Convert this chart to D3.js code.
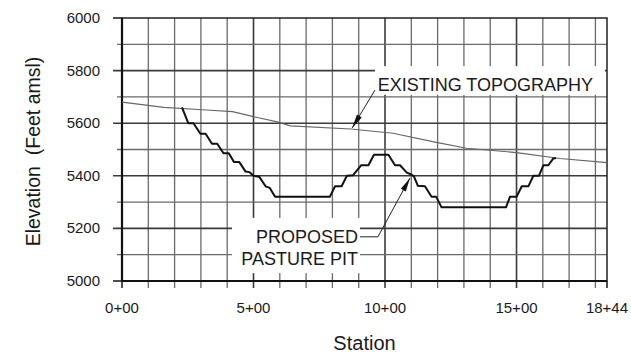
<!DOCTYPE html>
<html>
<head>
<meta charset="utf-8">
<script src="https://cdn.jsdelivr.net/npm/d3@7"></script>
<style>
  body { margin: 0; background: #fff; }
  text { font-family: "Liberation Sans", Arial, sans-serif; fill: #1a1a1a; }
</style>
</head>
<body>
<svg id="chart" width="631" height="358"></svg>
<script>
var width = 631;
var height = 358;
var margin = { top: 18, right: 24, bottom: 77, left: 122 };

// existing ground profile (station ft, elevation ft amsl)
var existStation = [0, 160, 320, 420, 500, 590, 640, 870, 1030, 1200, 1310, 1500, 1665, 1844];
var existElev = [5680, 5660, 5650, 5644, 5625, 5605, 5590, 5578, 5562, 5526, 5505, 5488, 5466, 5450];

// proposed pit benches
var pitStation = [228, 252, 272, 298, 318, 342, 362, 386, 406, 426, 446, 470, 484, 500, 522, 546, 562, 582,
  790, 810, 835, 855, 878, 909, 937, 958, 1013, 1038, 1057, 1083, 1100, 1110, 1125, 1152, 1177, 1195, 1215,
  1460, 1475, 1500, 1520, 1545, 1564, 1585, 1602, 1621, 1640, 1650];
var pitElev = [5660, 5600, 5600, 5560, 5560, 5522, 5522, 5486, 5486, 5452, 5452, 5416, 5414, 5400, 5396, 5360, 5354, 5320,
  5320, 5360, 5360, 5400, 5402, 5440, 5440, 5480, 5480, 5440, 5440, 5412, 5405, 5398, 5362, 5360, 5320, 5320, 5280,
  5280, 5320, 5320, 5360, 5360, 5400, 5400, 5440, 5440, 5466, 5468];

var xTickValues = [0, 500, 1000, 1500, 1844];
var xTickLabels = ["0+00", "5+00", "10+00", "15+00", "18+44"];
var yTickValues = [5000, 5200, 5400, 5600, 5800, 6000];

var svg = d3.select("#chart");

var x = d3.scaleLinear().domain([0, 1844]).range([margin.left, width - margin.right]);
var y = d3.scaleLinear().domain([5000, 6000]).range([height - margin.bottom, margin.top]);

// ==== grid ====
var grid = svg.append("g");
grid.selectAll("line.v")
  .data(d3.range(100, 1844, 100))
  .join("line")
  .attr("x1", d => x(d)).attr("x2", d => x(d))
  .attr("y1", y(6000)).attr("y2", y(5000) + 7)
  .attr("stroke", d => d % 500 == 0 ? "#3a3a3a" : "#6a6a6a")
  .attr("stroke-width", d => d % 500 == 0 ? 1.6 : 1.3);

grid.selectAll("line.h")
  .data(d3.range(5100, 6000, 100))
  .join("line")
  .attr("x1", d => x(0) - (d % 200 == 0 ? 9 : 5)).attr("x2", x(1844))
  .attr("y1", d => y(d)).attr("y2", d => y(d))
  .attr("stroke", d => d % 200 == 0 ? "#3a3a3a" : "#6a6a6a")
  .attr("stroke-width", d => d % 200 == 0 ? 1.6 : 1.3);

// ticks on the axis corners
svg.append("line").attr("x1", x(0)).attr("x2", x(0)).attr("y1", y(5000)).attr("y2", y(5000) + 7)
  .attr("stroke", "#222").attr("stroke-width", 1.6);
svg.append("line").attr("x1", x(1844)).attr("x2", x(1844)).attr("y1", y(5000)).attr("y2", y(5000) + 7)
  .attr("stroke", "#222").attr("stroke-width", 1.6);
svg.selectAll("line.yt")
  .data([5000, 6000])
  .join("line")
  .attr("x1", x(0) - 9).attr("x2", x(0))
  .attr("y1", d => y(d)).attr("y2", d => y(d))
  .attr("stroke", "#222").attr("stroke-width", 1.6);

// frame
svg.append("rect")
  .attr("x", x(0)).attr("y", y(6000))
  .attr("width", x(1844) - x(0)).attr("height", y(5000) - y(6000))
  .attr("fill", "none").attr("stroke", "#222").attr("stroke-width", 1.5);
svg.append("line").attr("x1", x(0)).attr("x2", x(0)).attr("y1", y(6000)).attr("y2", y(5000))
  .attr("stroke", "#111").attr("stroke-width", 2.2);
svg.append("line").attr("x1", x(0)).attr("x2", x(1844)).attr("y1", y(5000)).attr("y2", y(5000))
  .attr("stroke", "#111").attr("stroke-width", 2.2);

// ==== tick labels ====
svg.selectAll("text.ylab")
  .data(yTickValues)
  .join("text")
  .attr("x", x(0) - 22)
  .attr("y", d => y(d) + 5)
  .attr("text-anchor", "end")
  .style("font-size", "15px")
  .text(d => d);

svg.selectAll("text.xlab")
  .data(xTickValues)
  .join("text")
  .attr("x", d => x(d))
  .attr("y", y(5000) + 32)
  .attr("text-anchor", "middle")
  .style("font-size", "15px")
  .text((d, i) => xTickLabels[i]);

svg.append("text")
  .attr("x", (x(0) + x(1844)) / 2)
  .attr("y", 350)
  .attr("text-anchor", "middle")
  .style("font-size", "20px")
  .text("Station");

svg.append("text")
  .attr("transform", "translate(40," + ((y(5000) + y(6000)) / 2 + 2) + ") rotate(-90)")
  .attr("text-anchor", "middle")
  .style("font-size", "19.5px")
  .style("white-space", "pre")
  .text("Elevation  (Feet amsl)");

// ==== profiles ====
var line = d3.line().x(d => x(d[0])).y(d => y(d[1]));

svg.append("path")
  .datum(existStation.map((s, i) => [s, existElev[i]]))
  .attr("d", line)
  .attr("fill", "none")
  .attr("stroke", "#666")
  .attr("stroke-width", 1.1);

svg.append("path")
  .datum(pitStation.map((s, i) => [s, pitElev[i]]))
  .attr("d", line)
  .attr("fill", "none")
  .attr("stroke", "#111")
  .attr("stroke-width", 2)
  .attr("stroke-linejoin", "round");

// ==== annotations ====
function arrowHead(from, to) {
  var x1 = x(from[0]), y1 = y(from[1]), x2 = x(to[0]), y2 = y(to[1]);
  var len = Math.hypot(x2 - x1, y2 - y1);
  var ux = (x2 - x1) / len, uy = (y2 - y1) / len;
  var L = 14, w = 2.8;
  var bx = x2 - ux * L, by = y2 - uy * L;
  return "M" + x2 + "," + y2 + "L" + (bx - uy * w) + "," + (by + ux * w) + "L" + (bx + uy * w) + "," + (by - ux * w) + "Z";
}

// existing topography label
svg.append("rect")
  .attr("x", x(962)).attr("y", y(5817))
  .attr("width", x(1836) - x(962)).attr("height", y(5708) - y(5817))
  .attr("fill", "#fff");
svg.append("text")
  .attr("x", x(972)).attr("y", y(5724))
  .style("font-size", "18px")
  .text("EXISTING TOPOGRAPHY");
var existLeader = [[962, 5726], [875, 5582]];
svg.append("path").datum(existLeader).attr("d", line)
  .attr("fill", "none").attr("stroke", "#222").attr("stroke-width", 1);
svg.append("path").attr("d", arrowHead(existLeader[0], existLeader[1])).attr("fill", "#111");

// proposed pit label
svg.append("rect")
  .attr("x", x(418)).attr("y", y(5240))
  .attr("width", x(905) - x(418)).attr("height", y(5030) - y(5240))
  .attr("fill", "#fff");
svg.append("text")
  .attr("x", x(897)).attr("y", y(5143))
  .attr("text-anchor", "end")
  .style("font-size", "18px")
  .text("PROPOSED");
svg.append("text")
  .attr("x", x(897)).attr("y", y(5060))
  .attr("text-anchor", "end")
  .style("font-size", "18px")
  .text("PASTURE PIT");
var pitLeader = [[905, 5168], [973, 5168], [1095, 5392]];
svg.append("path").datum(pitLeader).attr("d", line)
  .attr("fill", "none").attr("stroke", "#222").attr("stroke-width", 1);
svg.append("path").attr("d", arrowHead(pitLeader[1], pitLeader[2])).attr("fill", "#111");
</script>
</body>
</html>
